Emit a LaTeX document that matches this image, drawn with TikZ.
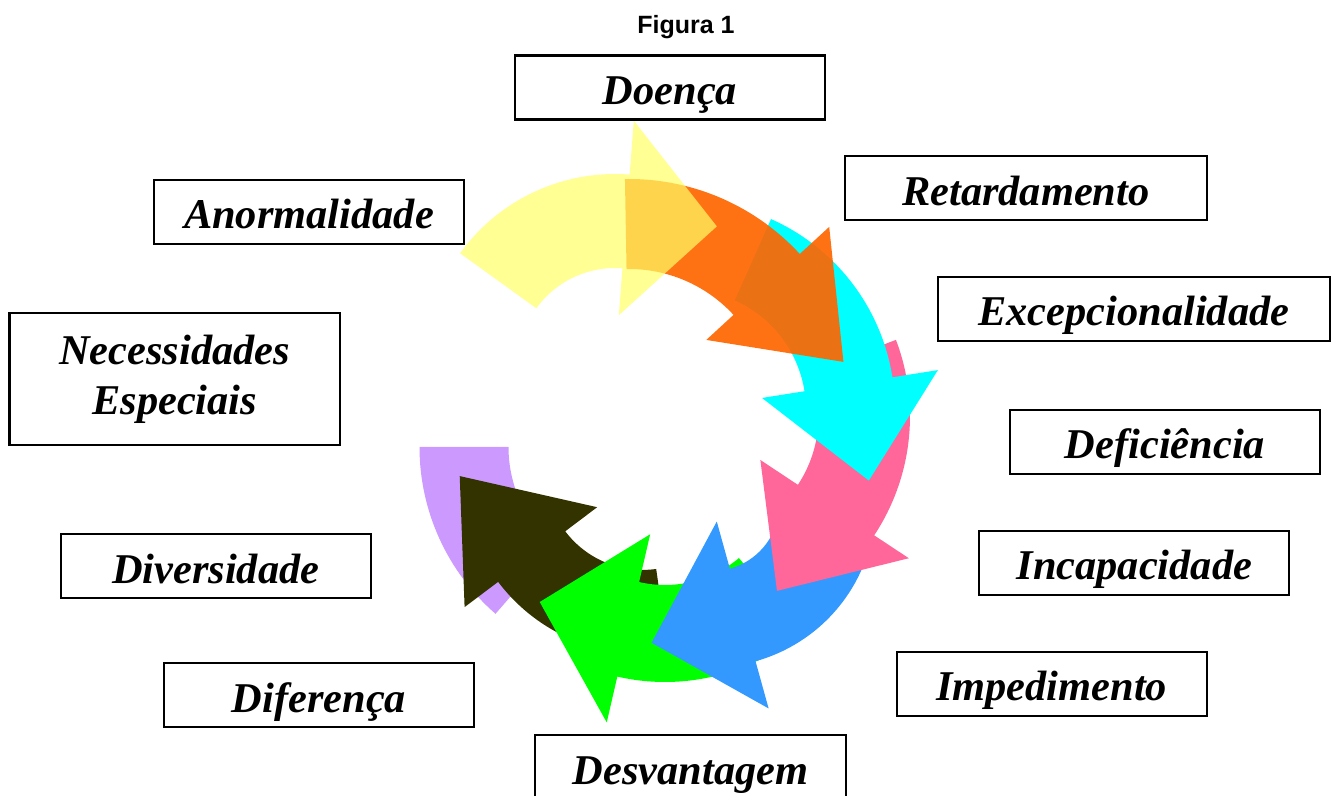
\documentclass[tikz,border=0pt]{standalone}
\usepackage{fontspec}
\setmainfont{Liberation Serif}
\newfontfamily\figfont{Liberation Sans}
\usepackage{tikz}

\definecolor{arrowyellow}{RGB}{255,255,102}
\definecolor{arroworange}{RGB}{255,102,0}
\definecolor{arrowcyan}{RGB}{0,255,255}
\definecolor{arrowpink}{RGB}{255,102,153}
\definecolor{arrowblue}{RGB}{51,153,255}
\definecolor{arrowgreen}{RGB}{0,255,0}
\definecolor{arrowolive}{RGB}{51,51,0}
\definecolor{arrowpurple}{RGB}{204,153,255}

\tikzset{
  box/.style={draw, line width=1.1pt, inner sep=0pt,
    font=\fontsize{21.2}{25}\selectfont\bfseries\itshape},
  term/.style={box, text height=24.5pt, text depth=7.5pt},
}

\begin{document}
\begin{tikzpicture}[x=0.5pt, y=-0.5pt]
\useasboundingbox (0, 0) rectangle (1340, 796);
% ring of arrows, back to front
\fill[arrowpurple, shift={(640.5, 447)}] (131:221) arc[start angle=131, end angle=180, radius=221] -- (180:132) arc[start angle=180, end angle=131, radius=132] -- cycle;
\fill[arrowolive, shift={(642.7, 472.9)}] (82:181) arc[start angle=82, end angle=143, radius=181] -- (143:223) -- (179:183) -- (143:57) -- (143:97) arc[start angle=143, end angle=82, radius=97] -- cycle;
\fill[arrowgreen, shift={(665, 470)}] (50:212) arc[start angle=50, end angle=103, radius=212] -- (103:259) -- (133.5:182) -- (103:66) -- (103:115) arc[start angle=103, end angle=50, radius=115] -- cycle;
\fill[arrowblue, shift={(711.7, 503.2)}] (8:164) arc[start angle=8, end angle=74.5, radius=164] -- (74.5:213) -- (113.3:152) -- (74.5:19) -- (74.5:68) arc[start angle=74.5, end angle=8, radius=68] -- cycle;
\fill[arrowpink, shift={(694.5, 416.4)}] (339.2:215.5) arc[start angle=339.2, end angle=393.5, radius=215.5] -- (393.5:257) -- (424.7:193) -- (393.5:79) -- (393.5:124) arc[start angle=393.5, end angle=339.2, radius=124] -- cycle;
\fill[arrowcyan, shift={(686, 410)}] (294:209) arc[start angle=294, end angle=351, radius=209] -- (351:255) -- (381.1:196) -- (351:77) -- (351:120) arc[start angle=351, end angle=294, radius=120] -- cycle;
\fill[arroworange, opacity=0.92, shift={(629, 411)}] (269:232) arc[start angle=269, end angle=317.4, radius=232] -- (317.4:272) -- (347.1:220) -- (317.4:105) -- (317.4:142) arc[start angle=317.4, end angle=269, radius=142] -- cycle;
\fill[arrowyellow, opacity=0.7, shift={(615, 365)}] (215.8:191) arc[start angle=215.8, end angle=274.4, radius=191] -- (274.4:245) -- (306.3:172) -- (274.4:50) -- (274.4:97) arc[start angle=274.4, end angle=215.8, radius=97] -- cycle;
% title and terms
\node[anchor=base, font=\figfont\fontsize{12.5}{15}\selectfont\bfseries] (figura) at (686, 34) {Figura 1};
\node[term, minimum width=155pt] (doenca) at (670, 87.5) {Doença};
\node[term, minimum width=180.8pt] (retardamento) at (1025.8, 188.2) {Retardamento};
\node[term, minimum width=196.2pt] (excepcionalidade) at (1133.8, 308.8) {Excepcionalidade};
\node[term, minimum width=155pt] (deficiencia) at (1165, 441.7) {Deficiência};
\node[term, minimum width=155pt] (incapacidade) at (1134.3, 562.8) {Incapacidade};
\node[term, minimum width=155pt] (impedimento) at (1051.7, 683.8) {Impedimento};
\node[term, minimum width=155.5pt] (desvantagem) at (690.5, 767) {Desvantagem};
\node[term, minimum width=155pt] (diferenca) at (319, 695) {Diferença};
\node[term, minimum width=155pt] (diversidade) at (215.7, 566.2) {Diversidade};
\node[box, align=center, minimum width=165.3pt, minimum height=65.9pt] (necessidades) at (174.7, 379.2) {Necessidades\\Especiais};
\node[term, minimum width=155pt] (anormalidade) at (309, 212) {Anormalidade};
\end{tikzpicture}
\end{document}
